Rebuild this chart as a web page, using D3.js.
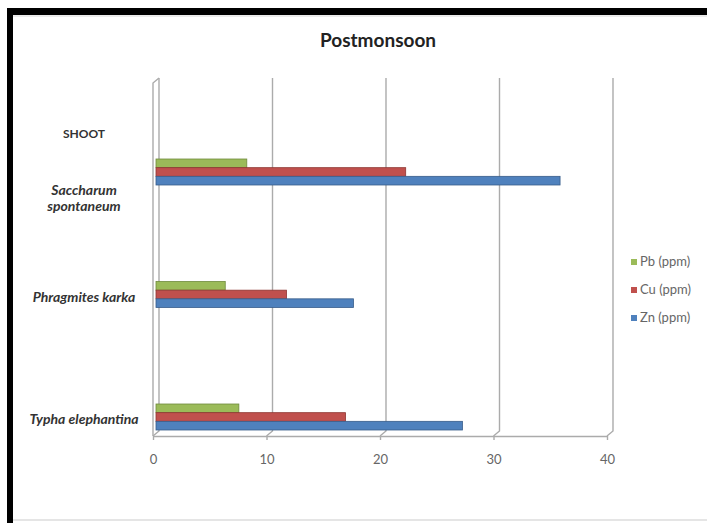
<!DOCTYPE html>
<html><head><meta charset="utf-8">
<script src="https://cdn.jsdelivr.net/npm/d3@7"></script>
<style>html,body{margin:0;padding:0;background:#fff;} svg{display:block}</style>
</head><body>
<svg id="chart" width="707" height="523"></svg>
<script>
// ---- data ----
const chartTitle = "Postmonsoon";
const groupLabel = "SHOOT";
const categories = ["Saccharum spontaneum", "Phragmites karka", "Typha elephantina"];
const categoryLines = [["Saccharum", "spontaneum"], ["Phragmites karka"], ["Typha elephantina"]];
const seriesNames = ["Pb (ppm)", "Cu (ppm)", "Zn (ppm)"];
const pbValues = [8.0, 6.1, 7.3];
const cuValues = [22.0, 11.5, 16.7];
const znValues = [35.6, 17.4, 27.0];
const xTickValues = [0, 10, 20, 30, 40];
const seriesColors = ["#9bbb59", "#c0504d", "#4f81bd"];
const seriesStrokes = ["#6f8a3c", "#8e3532", "#385d8a"];

// ---- layout ----
const W = 707, H = 523;
const plotTop = 78, plotBottom = 436;
const depthX = 6, depthY = 5;
const font = "Lato, 'Open Sans', sans-serif";

const svg = d3.select("#chart");
svg.append("rect").attr("width", W).attr("height", H).attr("fill", "#fff");

// frame
svg.append("line").attr("x1", 13).attr("x2", W).attr("y1", 520).attr("y2", 520)
  .attr("stroke", "#dcdcdc").attr("stroke-width", 1.5);
svg.append("line").attr("x1", 13).attr("x2", W).attr("y1", 16).attr("y2", 16)
  .attr("stroke", "#e4e4e4").attr("stroke-width", 1.5);
svg.append("rect").attr("x", 7).attr("y", 8).attr("width", W).attr("height", 7).attr("fill", "#000");
svg.append("rect").attr("x", 7).attr("y", 8).attr("width", 6).attr("height", H).attr("fill", "#000");

const x = d3.scaleLinear().domain([0, 40]).range([153, 607]);
const y = d3.scalePoint().domain(categories).range([plotTop + 94, plotBottom - 19]);
const sub = d3.scaleBand().domain(seriesNames).range([-13, 13]);

const gridColor = "#ababab";
const grid = svg.append("g").attr("stroke", gridColor).attr("stroke-width", 1.4).attr("fill", "none");
// back-wall gridlines with floor joints
xTickValues.forEach(v => {
  grid.append("path").attr("d",
    `M${x(v) + depthX},${plotTop} L${x(v) + depthX},${plotBottom - depthY} L${x(v)},${plotBottom}`);
});
// left side wall front edge
grid.append("path").attr("d",
  `M${x(0) + depthX},${plotTop} L${x(0)},${plotTop + depthY} L${x(0)},${plotBottom}`);

// bottom axis
const axis = d3.axisBottom(x).tickValues(xTickValues).tickSize(4).tickSizeOuter(0).tickPadding(15);
const ax = svg.append("g").attr("transform", `translate(0,${plotBottom})`).call(axis);
ax.select(".domain").attr("stroke", gridColor).attr("stroke-width", 1.4);
ax.selectAll(".tick line").attr("stroke", gridColor).attr("stroke-width", 1.4);
ax.selectAll(".tick text").attr("fill", "#666").attr("font-family", font).attr("font-size", 13);

// bars
const series = [pbValues, cuValues, znValues];
series.forEach((vals, si) => {
  svg.append("g").selectAll("rect").data(categories).join("rect")
    .attr("x", x(0) + depthX / 2)
    .attr("y", c => y(c) + sub(seriesNames[si]))
    .attr("width", (c, i) => x(vals[i]) - x(0))
    .attr("height", sub.bandwidth())
    .attr("fill", seriesColors[si])
    .attr("stroke", seriesStrokes[si]).attr("stroke-width", 0.8);
});

// title
svg.append("text").attr("x", 378).attr("y", 47).attr("text-anchor", "middle")
  .attr("font-family", font).attr("font-weight", "bold").attr("font-size", 19)
  .attr("fill", "#222").text(chartTitle);

// category labels
const labelX = 84;
svg.append("text").attr("x", labelX).attr("y", 138).attr("text-anchor", "middle")
  .attr("font-family", font).attr("font-weight", "bold").attr("font-size", 12)
  .attr("fill", "#333").text(groupLabel);
categories.forEach((c, i) => {
  const lines = categoryLines[i];
  const t = svg.append("text").attr("text-anchor", "middle")
    .attr("font-family", font).attr("font-weight", "bold").attr("font-style", "italic")
    .attr("font-size", 14).attr("fill", "#333");
  const base = lines.length > 1 ? y(c) + 23 : y(c) + 7;
  lines.forEach((l, li) => {
    t.append("tspan").attr("x", labelX).attr("y", base + li * 16).text(l);
  });
});

// legend (Pb on top)
const leg = svg.append("g");
seriesNames.forEach((s, i) => {
  const ly = 262 + i * 28;
  leg.append("rect").attr("x", 631).attr("y", ly - 3).attr("width", 6).attr("height", 6)
    .attr("fill", seriesColors[i]);
  leg.append("text").attr("x", 640).attr("y", ly + 4)
    .attr("font-family", font).attr("font-size", 13).attr("fill", "#666").text(s);
});
</script>
</body></html>
